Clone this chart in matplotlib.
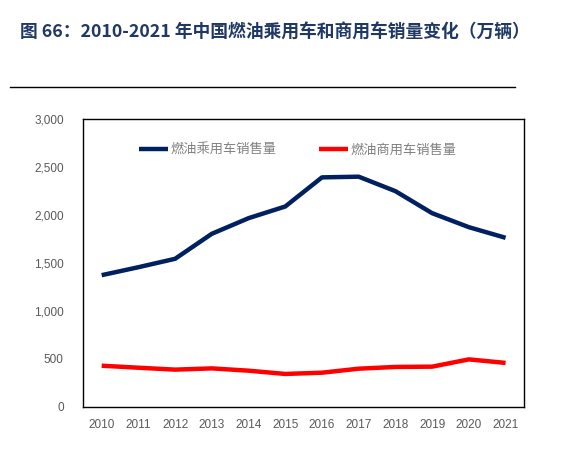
import numpy as np
import matplotlib.pyplot as plt
from matplotlib.ticker import FuncFormatter
from matplotlib.lines import Line2D

plt.rcParams['font.family'] = ['Liberation Sans', 'Noto Sans CJK SC', 'DejaVu Sans']

years = ['2010', '2011', '2012', '2013', '2014', '2015',
         '2016', '2017', '2018', '2019', '2020', '2021']
passenger = [1373, 1456, 1544, 1805, 1968, 2090, 2394, 2401, 2250, 2020, 1874, 1763]
commercial = [428, 407, 387, 400, 376, 342, 355, 397, 415, 418, 494, 457]
names = ['燃油乘用车销售量', '燃油商用车销售量']

fig = plt.figure(figsize=(5.64, 4.58), dpi=100)

# title and separator line
fig.text(0.036, 0.928, '图 66：2010-2021 年中国燃油乘用车和商用车销量变化（万辆）',
         fontsize=12.8, fontweight='bold', color='#1F3864',
         family=['Noto Sans CJK SC', 'DejaVu Sans'], va='center', ha='left')
fig.add_artist(Line2D([0.017, 0.913], [0.81, 0.81], color='black', lw=1.0))

ax = fig.add_axes([0.1477, 0.112, 0.7813, 0.6275])
x = np.arange(len(years))
ax.plot(x, passenger, color='#002060', lw=3.2, label=names[0], solid_capstyle='butt')
ax.plot(x, commercial, color='#FF0000', lw=3.2, label=names[1], solid_capstyle='butt')

ax.set_xlim(-0.5, len(years) - 0.5)
ax.set_ylim(0, 3000)
ax.set_yticks(np.arange(0, 3001, 500))
ax.yaxis.set_major_formatter(FuncFormatter(lambda v, p: f'{v:,.0f}'))
ax.set_xticks(x)
ax.set_xticklabels(years)
ax.tick_params(axis='both', length=0, labelsize=8.5, labelcolor='#595959')
ax.tick_params(axis='y', pad=14)
ax.tick_params(axis='x', pad=9)
for s in ax.spines.values():
    s.set_color('black')
    s.set_linewidth(1.0)

leg = ax.legend(loc='center', bbox_to_anchor=(0.487, 0.893), ncol=2, frameon=False,
                handlelength=2.2, handletextpad=0.2, columnspacing=3.2,
                prop={'family': ['Noto Sans CJK SC', 'DejaVu Sans'], 'size': 9.5})
for t in leg.get_texts():
    t.set_color('#808080')

fig.savefig('out.png', dpi=100)
